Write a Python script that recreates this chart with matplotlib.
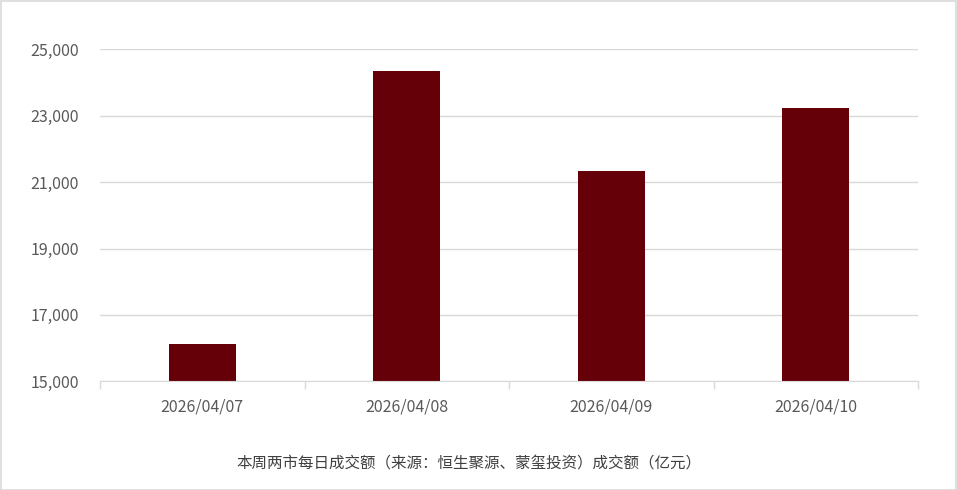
import matplotlib
matplotlib.use("Agg")
import matplotlib.pyplot as plt
from matplotlib.ticker import FuncFormatter
from matplotlib.patches import Rectangle

plt.rcParams['font.family'] = ['Noto Sans CJK SC', 'DejaVu Sans']

categories = ["2026/04/07", "2026/04/08", "2026/04/09", "2026/04/10"]
values = [16120, 24350, 21330, 23230]
yticks = [15000, 17000, 19000, 21000, 23000, 25000]
caption = "本周两市每日成交额（来源：恒生聚源、蒙玺投资）成交额（亿元）"

W, H = 957, 490
fig = plt.figure(figsize=(W / 100, H / 100), dpi=100)
ax = fig.add_axes([100 / W, 1 - 381.3 / H, (918 - 100) / W, (381.3 - 49.3) / H])

text_color = "#595959"
grid_color = "#d9d9d9"

x = list(range(len(categories)))
ax.bar(x, values, width=0.33, color="#650009", zorder=3)

ax.set_xlim(-0.5, len(categories) - 0.5)
ax.set_ylim(15000, 25000)
ax.set_yticks(yticks)
ax.yaxis.set_major_formatter(FuncFormatter(lambda v, p: f"{int(v):,}"))
ax.yaxis.grid(True, color=grid_color, linewidth=1, zorder=0)
ax.tick_params(axis='y', length=0, labelsize=11.5, labelcolor=text_color, pad=15)

ax.set_xticks(x)
ax.set_xticklabels(categories)
ax.tick_params(axis='x', length=0, labelsize=11.5, labelcolor=text_color, pad=12.5)
# boundary tick marks
ax.set_xticks([i - 0.5 for i in range(len(categories) + 1)], minor=True)
ax.tick_params(axis='x', which='minor', length=6, color=grid_color, width=1)

for s in ['top', 'right', 'left']:
    ax.spines[s].set_visible(False)
ax.spines['bottom'].set_color(grid_color)
ax.spines['bottom'].set_zorder(4)

fig.text(0.5 * (240 + 697) / W, 1 - 463 / H, caption, ha='center', va='center',
         fontsize=11.2, color="#404040")

fig.patches.append(Rectangle((0.5 / W, 0.5 / H), (W - 2) / W, (H - 2) / H,
                             transform=fig.transFigure, fill=False,
                             edgecolor=grid_color, linewidth=1.2))

fig.savefig("out.png", dpi=100)
